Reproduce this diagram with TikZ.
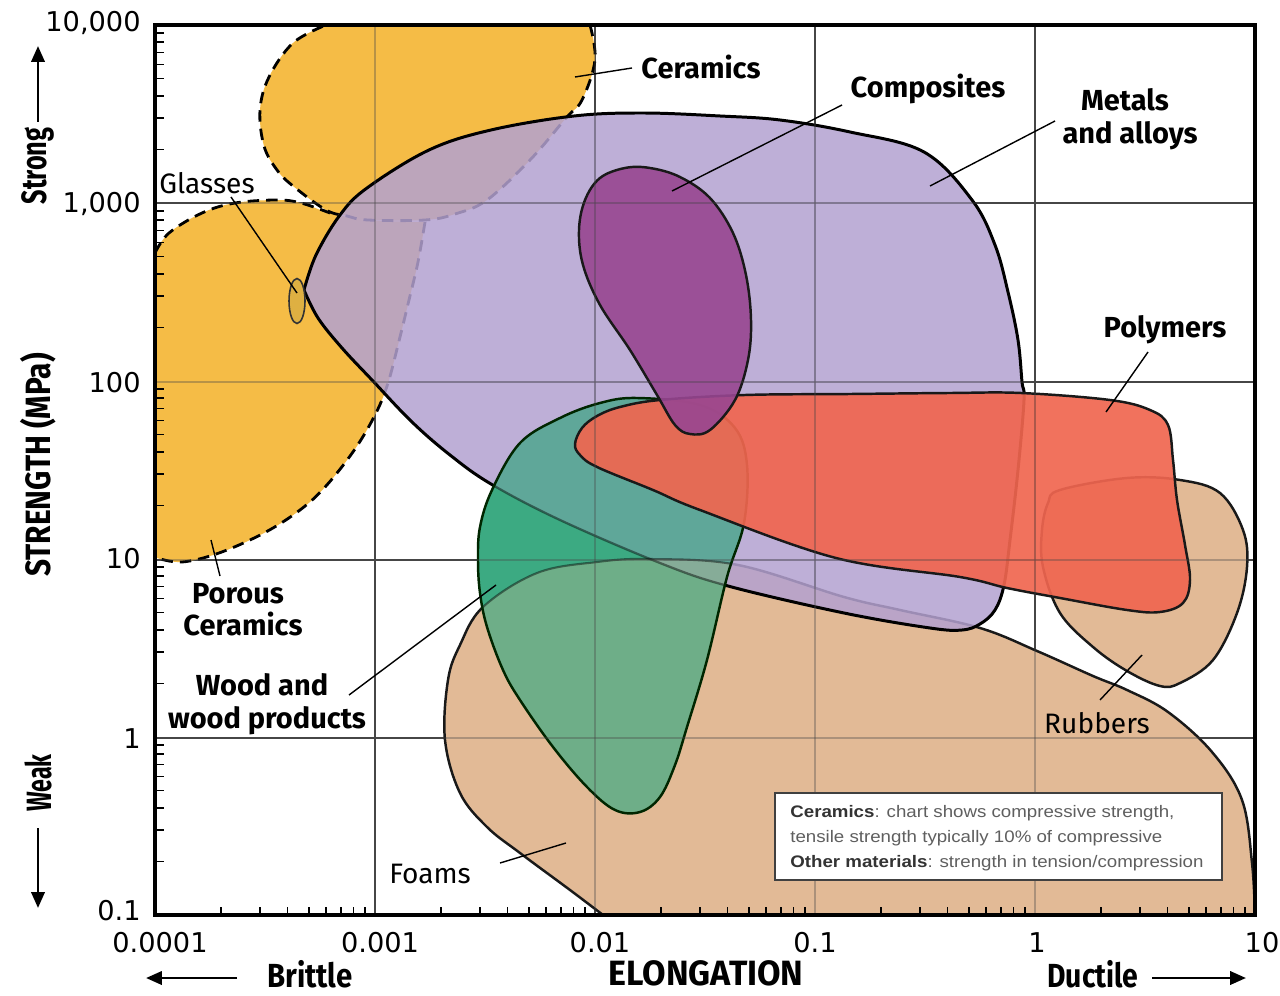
\documentclass[tikz,border=0pt]{standalone}
\usepackage{fontspec}
\setmainfont{Fira Sans}
\newfontfamily\tickfont{DejaVu Sans}
\newfontfamily\notefont{Liberation Sans}
\usetikzlibrary{arrows.meta}
\definecolor{cerorange}{RGB}{245,188,70}
\definecolor{metpurple}{RGB}{179,161,208}
\definecolor{compmag}{RGB}{152,70,145}
\definecolor{woodgreen}{RGB}{60,170,130}
\definecolor{polyred}{RGB}{240,102,80}
\definecolor{foamtan}{RGB}{226,186,150}
\definecolor{gridgray}{RGB}{70,70,70}
\definecolor{glassfill}{RGB}{222,176,66}
\definecolor{notegray}{RGB}{95,95,95}
\def\purplepath{plot[smooth,tension=0.6] coordinates {(304,290) (316,255) (340,215) (367,188) (429,150) (491,130) (574,116) (643,113) (720,116) (780,120) (850,132) (924,152) (972,200) (995,245) (1008,292) (1018,340) (1022,382) (1024,400) (1018,470) (1010,540) (1004,585) (995,610) (980,624) (962,630) (930,628) (844,613) (728,586) (660,563) (560,520) (491,484) (450,455) (412,422) (372,380) (342,348) (318,318) (304,290)} -- cycle}
\def\foampath{(603,915) -- (1255,915) -- plot[smooth,tension=0.6] coordinates {(1255,915) (1252,863) (1242,800) (1212,752) (1168,712) (1127,690) (1093,676) (1037,651) (980,628) (900,610) (844,597) (738,565) (650,559) (597,562) (537,573) (483,607) (460,645) (448,680) (445,740) (460,793) (487,827) (520,853) (570,890) (603,915)} -- cycle}
\def\greenpath{plot[smooth cycle,tension=0.6] coordinates {(637,398) (700,405) (735,428) (747,465) (744,523) (727,577) (707,660) (687,727) (675,765) (660,797) (640,812) (615,810) (587,787) (553,747) (520,700) (503,670) (487,627) (480,593) (478,560) (480,527) (492,490) (520,443) (560,418) (600,403)}}
\begin{document}
\begin{tikzpicture}[x=0.02cm,y=-0.02cm,
  gridln/.style={draw=gridgray,line width=0.8pt},
  gridov/.style={draw=gridgray,line width=0.8pt,draw opacity=0.35},
  cerline/.style={draw=black,line width=1.6pt,dash pattern=on 6.5pt off 4pt},
  shapeline/.style={draw=black!90,line width=1.4pt},
  leader/.style={draw=black,line width=0.8pt},
  tickmark/.style={draw=black,line width=0.9pt},
  lab/.style={font=\fontsize{16.5}{19}\selectfont\bfseries,anchor=base,inner sep=0pt},
  labthin/.style={font=\fontsize{16}{19}\selectfont,anchor=base,inner sep=0pt},
  ticklab/.style={font=\tickfont\fontsize{15.5}{18}\selectfont,inner sep=0pt},
  axlab/.style={font=\fontsize{19}{22}\selectfont\bfseries,inner sep=0pt},
  axarrow/.style={draw=black,line width=1.6pt,-{Triangle[length=9pt,width=7.5pt]}}]
\fill[white] (0,0) rectangle (1280,996);
\useasboundingbox (0,0) rectangle (1280,996);
% grid (under)
\foreach \gx in {375,595,815,1035} \draw[gridln] (\gx,25) -- (\gx,915);
\foreach \gy in {203,382,560,738} \draw[gridln] (155,\gy) -- (1255,\gy);
% ceramics (upper)
\fill[cerorange] (326,25) -- (590,25) -- plot[smooth,tension=0.6] coordinates {(590,25) (595,60) (582,100) (566,118) (530,160) (487,200) (455,214) (425,220) (368,220) (347,216) (326,210) (293,186) (277,170) (264,146) (260,110) (269,77) (293,43) (326,25)} -- cycle;
% ceramics (lower, porous)
\fill[cerorange] (155,558) -- (155,253) -- plot[smooth,tension=0.6] coordinates {(155,253) (169,233) (202,213) (235,203) (277,200) (301,203) (330,213) (368,220) (425,222)} -- plot[smooth,tension=0.6] coordinates {(425,222) (418,262) (409,300) (398,345) (388,383) (376,413) (355,449) (326,486) (300,510) (264,533) (219,553) (182,562) (157,558)} -- cycle;
\draw[cerline] plot[smooth,tension=0.6] coordinates {(590,25) (595,60) (582,100) (566,118) (530,160) (487,200) (455,214) (425,220) (368,220) (347,216) (326,210) (293,186) (277,170) (264,146) (260,110) (269,77) (293,43) (326,25)};
\draw[cerline] plot[smooth,tension=0.6] coordinates {(155,253) (169,233) (202,213) (235,203) (277,200) (301,203) (330,213)};
\draw[cerline] plot[smooth,tension=0.6] coordinates {(425,222) (418,262) (409,300) (398,345) (388,383) (376,413) (355,449) (326,486) (300,510) (264,533) (219,553) (182,562) (157,558)};
% foams
\path[shapeline,fill=foamtan] \foampath;
% rubbers
\path[shapeline,fill=foamtan] plot[smooth cycle,tension=0.6] coordinates {(1060,490) (1127,478) (1180,480) (1220,493) (1243,530) (1247,567) (1237,613) (1213,660) (1180,683) (1160,686) (1127,671) (1093,647) (1060,613) (1043,567) (1042,530) (1048,503)};
% metals and alloys
\path[draw=black,line width=1.7pt,fill=metpurple,fill opacity=0.85] \purplepath;
% wood
\fill[woodgreen] \greenpath;
\begin{scope}
  \clip \greenpath;
  \fill[metpurple,fill opacity=0.3] \purplepath;
  \fill[foamtan,fill opacity=0.3] \foampath;
  \draw[black,line width=1.3pt,draw opacity=0.45] \purplepath;
  \draw[black,line width=1.2pt,draw opacity=0.45] \foampath;
\end{scope}
\draw[shapeline,draw=black!85!green] \greenpath;
% polymers
\path[shapeline,fill=polyred,fill opacity=0.92] plot[smooth cycle,tension=0.6] coordinates {(575,444) (582,428) (597,416) (620,407) (660,400) (745,395) (850,394) (950,393) (1021,393) (1110,400) (1150,410) (1168,425) (1173,460) (1177,500) (1185,545) (1190,580) (1183,603) (1160,612) (1127,610) (1060,598) (1007,588) (960,577) (836,558) (700,510) (653,490) (597,467) (580,455)};
% composites
\path[shapeline,fill=compmag,fill opacity=0.9] plot[smooth cycle,tension=0.6] coordinates {(625,168) (600,178) (585,200) (579,230) (583,265) (600,305) (630,350) (657,395) (675,425) (690,434) (710,430) (735,400) (748,360) (751,320) (746,275) (733,233) (710,198) (680,177) (650,168)};
% glasses
\draw[fill=glassfill,draw=black!80,line width=0.9pt] (297,301) ellipse [x radius=0.16cm, y radius=0.45cm];
% grid (over, faint)
\foreach \gx in {375,595,815,1035} \draw[gridov] (\gx,25) -- (\gx,915);
\foreach \gy in {203,382,560,738} \draw[gridov] (155,\gy) -- (1255,\gy);
% minor ticks
\foreach \d in {0,...,4} \foreach \k in {2,...,9} {
  \draw[tickmark] ({155+220*(\d+log10(\k))},915) -- ++(0,-8);
  \draw[tickmark] (155,{915-178*(\d+log10(\k))}) -- ++(9,0);
}
% frame
\draw[black,line width=1.8pt] (155,25) rectangle (1255,915);
\draw[black,line width=2.4pt] (155,25) -- (155,915) -- (1255,915) -- (1255,25);
% note box
\node[draw=black!75,line width=0.9pt,fill=white,minimum width=8.94cm,minimum height=1.74cm,inner sep=0pt] (note) at (998.5,836.5) {};
\node[anchor=base west,inner sep=0pt,font=\notefont\fontsize{9.5}{11}\selectfont,text=notegray] (n1) at (790,817) {\scalebox{1.12}[1]{\textcolor{black!80}{\bfseries Ceramics}: chart shows compressive strength,}};
\node[anchor=base west,inner sep=0pt,font=\notefont\fontsize{9.5}{11}\selectfont,text=notegray] (n2) at (790,842) {\scalebox{1.12}[1]{tensile strength typically 10\% of compressive}};
\node[anchor=base west,inner sep=0pt,font=\notefont\fontsize{9.5}{11}\selectfont,text=notegray] (n3) at (790,867) {\scalebox{1.12}[1]{\textcolor{black!80}{\bfseries Other materials}: strength in tension/compression}};
% leaders
\coordinate (cerA) at (632,68); \coordinate (cerB) at (575,77);
\coordinate (comA) at (842,105); \coordinate (comB) at (672,191);
\coordinate (metA) at (1055,121); \coordinate (metB) at (930,186);
\coordinate (polA) at (1148,352); \coordinate (polB) at (1106,412);
\coordinate (glaA) at (231,197); \coordinate (glaB) at (297,293);
\coordinate (porA) at (211,540); \coordinate (porB) at (220,576);
\coordinate (wooA) at (349,695); \coordinate (wooB) at (496,585);
\coordinate (foaA) at (500,863); \coordinate (foaB) at (566,843);
\coordinate (rubA) at (1100,700); \coordinate (rubB) at (1142,655);
\foreach \a/\b in {cerA/cerB,comA/comB,metA/metB,polA/polB,glaA/glaB,porA/porB,wooA/wooB,foaA/foaB,rubA/rubB} \draw[leader] (\a) -- (\b);
% labels
\node[lab] (cerlab) at (701,79) {Ceramics};
\node[lab] (comlab) at (928,98) {Composites};
\node[lab] (metlab1) at (1125,111) {Metals};
\node[lab] (metlab2) at (1130,144) {and alloys};
\node[lab] (pollab) at (1165,338) {Polymers};
\node[labthin] (glalab) at (207,194) {Glasses};
\node[lab] (porlab1) at (238,603) {Porous};
\node[lab] (porlab2) at (243,635) {Ceramics};
\node[lab] (woolab1) at (262,695) {Wood and};
\node[lab] (woolab2) at (267,728) {wood products};
\node[labthin] (foalab) at (430,883) {Foams};
\node[labthin] (rublab) at (1097,733) {Rubbers};
% tick labels
\node[ticklab,anchor=base east] (y1) at (141,32) {10,000};
\node[ticklab,anchor=base east] (y2) at (141,213) {1,000};
\node[ticklab,anchor=base east] (y3) at (141,393) {100};
\node[ticklab,anchor=base east] (y4) at (141,568) {10};
\node[ticklab,anchor=base east] (y5) at (141,748) {1};
\node[ticklab,anchor=base east] (y6) at (141,920) {0.1};
\node[ticklab,anchor=base] (x1) at (160,952) {0.0001};
\node[ticklab,anchor=base] (x2) at (380,952) {0.001};
\node[ticklab,anchor=base] (x3) at (600,952) {0.01};
\node[ticklab,anchor=base] (x4) at (815,952) {0.1};
\node[ticklab,anchor=base] (x5) at (1037,952) {1};
\node[ticklab,anchor=base] (x6) at (1262,952) {10};
% axis titles
\node[axlab,font=\fontsize{20}{24}\selectfont\bfseries,rotate=90] (ylab) at (38,465) {\scalebox{0.85}[1]{STRENGTH (MPa)}};
\node[axlab,font=\fontsize{20}{24}\selectfont\bfseries,rotate=90] (strong) at (38,166) {\scalebox{0.72}[1]{Strong}};
\node[axlab,font=\fontsize{20}{24}\selectfont\bfseries,rotate=90] (weak) at (38,783) {\scalebox{0.66}[1]{Weak}};
\node[axlab,font=\fontsize{20}{24}\selectfont\bfseries,anchor=base] (xlab) at (706,985) {\scalebox{0.97}[1]{ELONGATION}};
\node[axlab,anchor=base] (brittle) at (310,987) {\scalebox{0.88}[1]{Brittle}};
\node[axlab,anchor=base] (ductile) at (1093,987) {\scalebox{0.85}[1]{Ductile}};
\coordinate (upA) at (38,122); \coordinate (upB) at (38,46);
\coordinate (dnA) at (38,828); \coordinate (dnB) at (38,908);
\coordinate (lfA) at (237,978); \coordinate (lfB) at (146,978);
\coordinate (rtA) at (1152,978); \coordinate (rtB) at (1246,978);
\draw[axarrow] (upA) -- (upB);
\draw[axarrow] (dnA) -- (dnB);
\draw[axarrow] (lfA) -- (lfB);
\draw[axarrow] (rtA) -- (rtB);
\end{tikzpicture}
\end{document}
